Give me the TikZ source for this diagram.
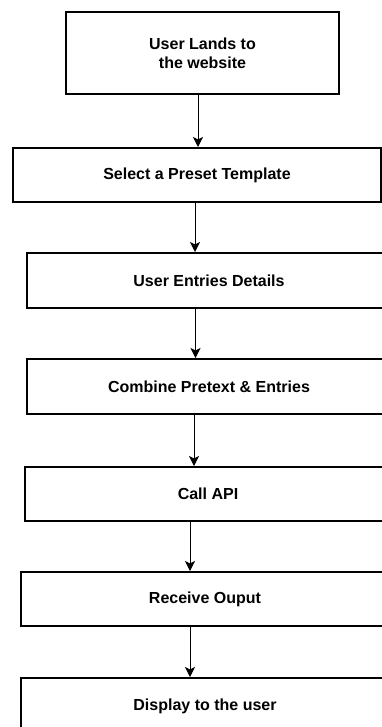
\documentclass[tikz,border=0pt]{standalone}
\usepackage{fontspec}
\setmainfont{Liberation Sans}
\usetikzlibrary{positioning,arrows.meta}

\begin{document}
\begin{tikzpicture}
    [x=1pt,y=-1pt,every node/.style={draw, line width=2pt, rectangle, inner sep=0pt, font=\fontsize{16}{19}\selectfont\bfseries, align=center}]
  \useasboundingbox (0,0) rectangle (382,727);
  \clip (0,0) rectangle (382,727);

  \node[minimum width=273pt, minimum height=82pt] (n1) at (202.5,53) {User Lands to\\the website};
  \node[minimum width=368pt, minimum height=54pt] (n2) at (197,175) {Select a Preset Template};
  \node[minimum width=364pt, minimum height=55pt] (n3) at (209,280.5) {User Entries Details};
  \node[minimum width=364pt, minimum height=55pt] (n4) at (209,386.5) {Combine Pretext \& Entries};
  \node[minimum width=366pt, minimum height=54pt] (n5) at (208,494) {Call API};
  \node[minimum width=368pt, minimum height=54pt] (n6) at (205,599) {Receive Ouput};
  \node[minimum width=368pt, minimum height=56pt] (n7) at (205,706) {Display to the user};

  \foreach \from/\to/\x in {n1/n2/198, n2/n3/195, n3/n4/195.5, n4/n5/194, n5/n6/190, n6/n7/190}
    \draw[-{Stealth[length=10pt, width=10pt, inset=2.5pt]}, line width=1pt] (\from.south -| \x,0) -- (\to.north -| \x,0);
\end{tikzpicture}
\end{document}
